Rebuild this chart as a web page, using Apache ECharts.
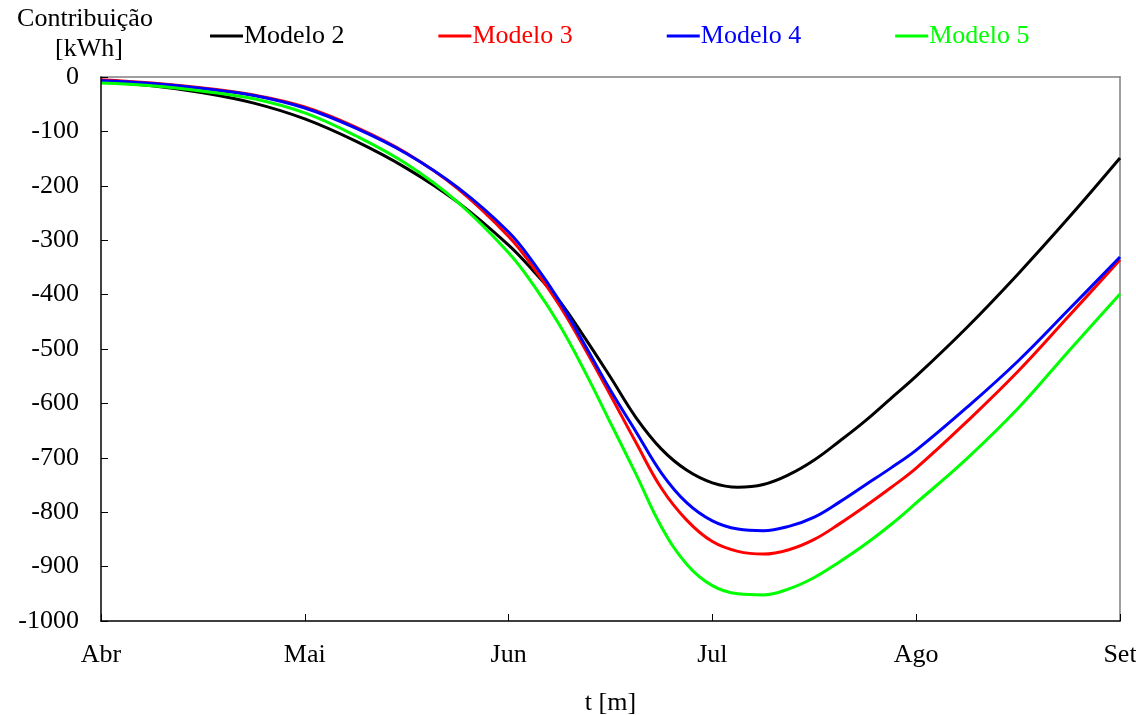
<!DOCTYPE html>
<html>
<head>
<meta charset="utf-8">
<title>Contribuição</title>
<script src="https://cdn.jsdelivr.net/npm/echarts@6/dist/echarts.min.js"></script>
<style>
  html, body { margin: 0; padding: 0; background: #fff; }
  #chart { width: 1136px; height: 715px; }
</style>
</head>
<body>
<div id="chart"></div>
<script>
// tempo em meses a partir de Abr (mais pontos entre Jun e Ago)
const tVals = [0, 0.25, 0.5, 0.75, 1, 1.25, 1.5, 1.75, 2, 2.125, 2.25, 2.375, 2.5, 2.625, 2.75, 2.875, 3, 3.125, 3.25, 3.375, 3.5, 3.625, 3.75, 3.875, 4, 4.25, 4.5, 4.75, 5]
const months = ['Abr', 'Mai', 'Jun', 'Jul', 'Ago', 'Set']

const modelo2 = [-9, -16, -29, -48, -77, -118, -168, -230, -309, -358, -412, -480, -552, -626, -684, -723, -746, -754, -749, -731, -704, -669, -632, -591, -550, -460, -362, -258, -149]
const modelo3 = [-5, -11, -20, -33, -55, -92, -140, -205, -293, -352, -420, -500, -585, -672, -756, -815, -854, -872, -877, -869, -850, -821, -789, -755, -719, -633, -541, -439, -336]
const modelo4 = [-7, -12, -21, -34, -57, -94, -141, -203, -285, -343, -412, -493, -576, -652, -728, -783, -816, -831, -834, -826, -809, -781, -750, -719, -686, -607, -522, -427, -331]
const modelo5 = [-11, -16, -26, -40, -66, -108, -160, -230, -323, -384, -456, -542, -636, -730, -827, -896, -935, -950, -952, -941, -920, -891, -859, -823, -783, -701, -609, -503, -399]

const fontFamily = "'Liberation Serif', 'Times New Roman', serif"

function pairs (ys) {
  return tVals.map((t, i) => [t, ys[i]])
}

function makeSeries (name, ys, color) {
  return {
    name: name,
    type: 'line',
    data: pairs(ys),
    smooth: 0.4,
    symbol: 'none',
    lineStyle: { color: color, width: 3 },
    itemStyle: { color: color }
  }
}

// eixos de cima e da direita só fazem a moldura cinza
const frameLine = { show: true, onZero: false, lineStyle: { color: '#808080', width: 1.5 } }
const blackLine = { show: true, onZero: false, lineStyle: { color: '#000', width: 1.5 } }

let chart = echarts.init(document.getElementById('chart'))
chart.setOption({
  animation: false,
  textStyle: { fontFamily: fontFamily },
  graphic: [
    { type: 'text', x: 85, y: 19, style: { text: 'Contribuição', font: '26px ' + fontFamily, fill: '#000', align: 'center', verticalAlign: 'middle' } },
    { type: 'text', x: 89, y: 49, style: { text: '[kWh]', font: '26px ' + fontFamily, fill: '#000', align: 'center', verticalAlign: 'middle' } }
  ],
  legend: {
    left: 205,
    top: 18,
    icon: 'rect',
    itemWidth: 33,
    itemHeight: 3,
    itemGap: 94,
    textStyle: { fontSize: 26, fontFamily: fontFamily, padding: [0, 0, 0, -4] },
    data: [
      { name: 'Modelo 2', textStyle: { color: '#000000' } },
      { name: 'Modelo 3', textStyle: { color: '#ff0000' } },
      { name: 'Modelo 4', textStyle: { color: '#0000ff' } },
      { name: 'Modelo 5', textStyle: { color: '#00ff00' } }
    ]
  },
  grid: {
    left: 101,
    right: 16,
    top: 77,
    bottom: 94,
    outerBoundsMode: 'none'
  },
  xAxis: [
    {
      type: 'value',
      position: 'bottom',
      min: 0,
      max: 5,
      interval: 1,
      name: 't [m]',
      nameLocation: 'middle',
      nameGap: 69,
      nameTextStyle: { fontSize: 26, color: '#000', fontFamily: fontFamily },
      axisLine: blackLine,
      axisTick: { inside: true, length: 7, lineStyle: { color: '#000' } },
      splitLine: { show: false },
      z: 5,
      axisLabel: {
        margin: 21,
        fontSize: 26,
        color: '#000',
        fontFamily: fontFamily,
        formatter: v => months[Math.round(v)]
      }
    },
    {
      type: 'value',
      position: 'top',
      min: 0,
      max: 5,
      axisLine: frameLine,
      axisTick: { show: false },
      axisLabel: { show: false },
      splitLine: { show: false }
    }
  ],
  yAxis: [
    {
      type: 'value',
      position: 'left',
      min: -1000,
      max: 0,
      interval: 100,
      axisLine: blackLine,
      axisTick: { show: true, inside: true, length: 7, lineStyle: { color: '#000' } },
      splitLine: { show: false },
      z: 5,
      axisLabel: { margin: 22, fontSize: 26, color: '#000', fontFamily: fontFamily, formatter: v => String(v) }
    },
    {
      type: 'value',
      position: 'right',
      min: -1000,
      max: 0,
      axisLine: frameLine,
      axisTick: { show: false },
      axisLabel: { show: false },
      splitLine: { show: false }
    }
  ],
  series: [
    makeSeries('Modelo 2', modelo2, '#000000'),
    makeSeries('Modelo 3', modelo3, '#ff0000'),
    makeSeries('Modelo 4', modelo4, '#0000ff'),
    makeSeries('Modelo 5', modelo5, '#00ff00')
  ]
})
</script>
</body>
</html>
